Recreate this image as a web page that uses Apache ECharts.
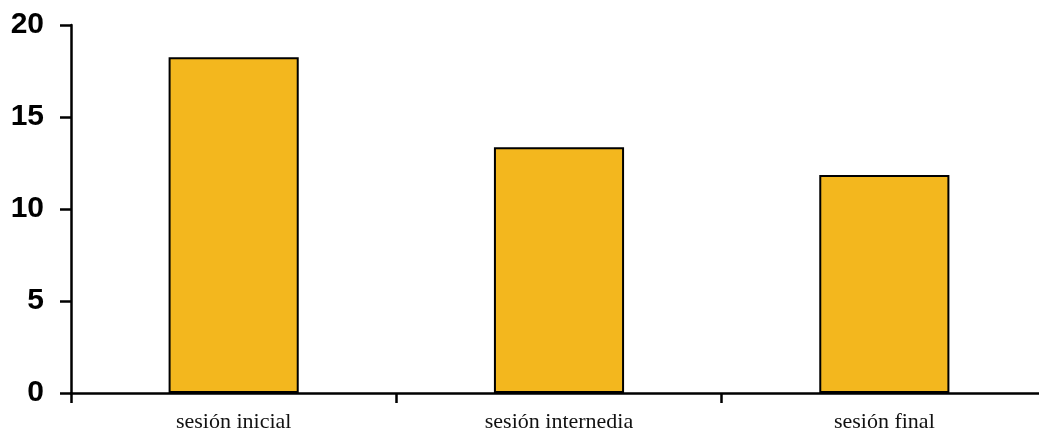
<!DOCTYPE html>
<html>
<head>
<meta charset="utf-8">
<script src="https://cdn.jsdelivr.net/npm/echarts@6/dist/echarts.min.js"></script>
<style>html,body{margin:0;padding:0;background:#fff;overflow:hidden;width:1039px;height:439px;}#c{width:1047px;height:439px;}</style>
</head>
<body>
<div id="c"></div>
<script>
const categories = ["sesión inicial", "sesión internedia", "sesión final"];
const values = [18.25, 13.35, 11.85];
const yTicks = [0, 5, 10, 15, 20];

const chart = echarts.init(document.getElementById('c'), null, {renderer: 'canvas'});
chart.setOption({
  animation: false,
  backgroundColor: '#ffffff',
  grid: {left: 71, right: 0, top: 25, bottom: 46, containLabel: false},
  xAxis: {
    type: 'category',
    data: categories,
    boundaryGap: true,
    axisLine: {show: true, lineStyle: {color: '#000', width: 2.5}},
    axisTick: {show: true, length: 10, lineStyle: {color: '#000', width: 2.5}},
    axisLabel: {color: '#111', fontFamily: 'Liberation Serif', fontSize: 22, margin: 18}
  },
  yAxis: {
    type: 'value',
    min: yTicks[0],
    max: yTicks[yTicks.length - 1],
    interval: 5,
    splitLine: {show: false},
    axisLine: {show: true, lineStyle: {color: '#000', width: 2.5}},
    axisTick: {show: true, length: 11, lineStyle: {color: '#000', width: 2.5}},
    axisLabel: {color: '#000', fontFamily: 'Liberation Sans', fontWeight: 'bold', fontSize: 30, margin: 27}
  },
  series: [{
    type: 'bar',
    data: values,
    barWidth: '40%',
    itemStyle: {color: '#F3B71E', borderColor: '#000', borderWidth: 2}
  }]
});
</script>
</body>
</html>
